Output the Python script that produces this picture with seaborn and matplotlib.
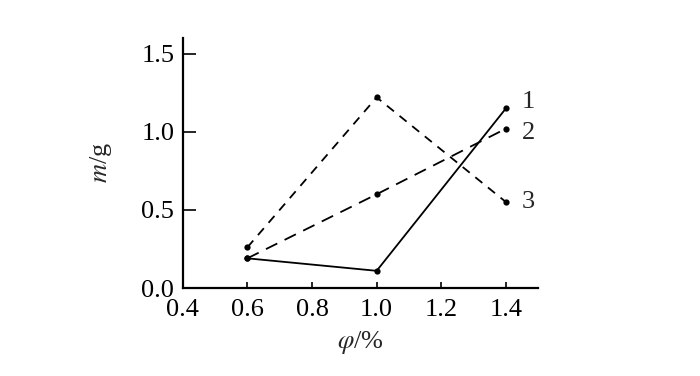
import matplotlib
matplotlib.use("Agg")
import matplotlib.pyplot as plt
import pandas as pd
import seaborn as sns

# values
phi = [0.6, 1.0, 1.4]
m_curve1 = [0.19, 0.11, 1.15]
m_curve2 = [0.19, 0.60, 1.02]
m_curve3 = [0.26, 1.22, 0.55]
curve_names = ["1", "2", "3"]
x_ticks = [0.4, 0.6, 0.8, 1.0, 1.2, 1.4]
y_ticks = [0.0, 0.5, 1.0, 1.5]

rows = []
for name, vals in zip(curve_names, [m_curve1, m_curve2, m_curve3]):
    for x, y in zip(phi, vals):
        rows.append({"phi": x, "m": y, "curve": name})
df = pd.DataFrame(rows)

sns.set_style("ticks")
plt.rcParams["font.family"] = ["Liberation Serif", "DejaVu Serif"]
plt.rcParams["mathtext.fontset"] = "stix"

fig = plt.figure(figsize=(7, 3.76), dpi=100)
ax = fig.add_axes([0.261, 0.234, 0.508, 0.665])

sns.lineplot(data=df, x="phi", y="m", style="curve",
             dashes={"1": "", "2": (7, 4.5), "3": (5, 4)},
             color="black", linewidth=1.3, marker="o", markersize=4.5,
             markeredgewidth=0, legend=False, ax=ax)

# curve numbers next to end points
label_shift = {"1": 0.04, "2": -0.03, "3": 0.0}
for name, vals in zip(curve_names, [m_curve1, m_curve2, m_curve3]):
    ax.text(phi[-1] + 0.05, vals[-1] + label_shift[name], name, fontsize=19,
            va="center", ha="left")

ax.set_xlim(0.4, 1.5)
ax.set_ylim(0.0, 1.6)
ax.set_xticks(x_ticks)
ax.set_yticks(y_ticks)
ax.set_xticklabels([f"{t:.1f}" for t in x_ticks])
ax.set_yticklabels([f"{t:.1f}" for t in y_ticks])
ax.tick_params(axis="both", direction="in", labelsize=19, width=1.2, colors="black")
ax.tick_params(axis="y", length=9, pad=6)
ax.tick_params(axis="x", length=4, pad=8)
for s in ["left", "bottom"]:
    ax.spines[s].set_linewidth(1.6)
    ax.spines[s].set_color("black")
sns.despine(ax=ax)

ax.set_xlabel(r"$\varphi$/%", fontsize=19, labelpad=6)
ax.set_ylabel(r"$m$/g", fontsize=19, labelpad=20)

fig.savefig("out.png", dpi=100)
